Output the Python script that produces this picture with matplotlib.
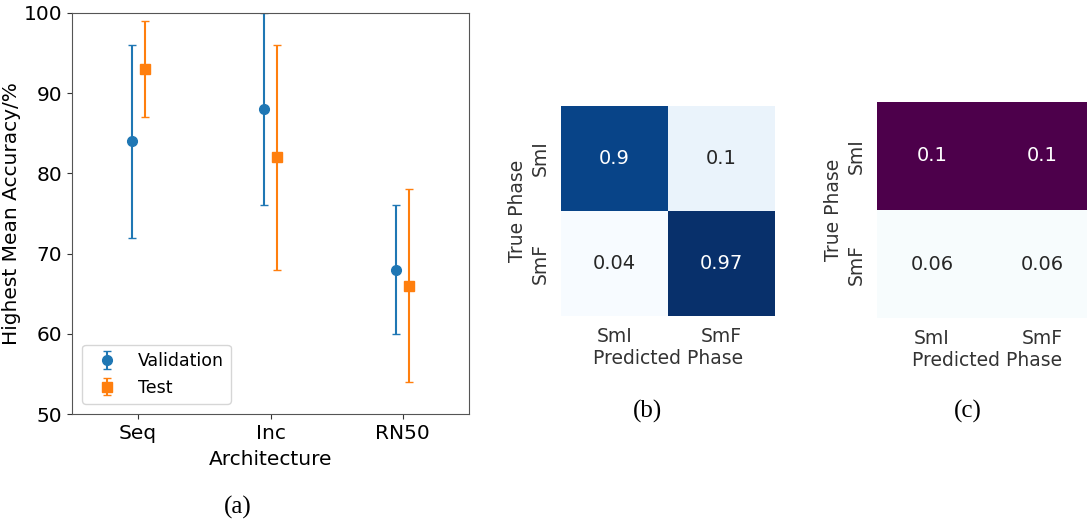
import matplotlib
matplotlib.use('Agg')
import matplotlib.pyplot as plt
import seaborn as sns
import numpy as np

# ── data ──
archs = ['Seq', 'Inc', 'RN50']
val_mean = [84, 88, 68]
val_lo = [72, 76, 60]
val_hi = [96, 100, 76]
test_mean = [93, 82, 66]
test_lo = [87, 68, 54]
test_hi = [99, 96, 78]

phases = ['SmI', 'SmF']
cm_b = [[0.9, 0.1],
        [0.04, 0.97]]
cm_c = [[0.1, 0.1],
        [0.06, 0.06]]

W, H = 1087, 521
fig = plt.figure(figsize=(W / 100, H / 100), dpi=100)


def rect(x0, y0, x1, y1):
    # pixel box -> figure fraction
    return [x0 / W, 1 - y1 / H, (x1 - x0) / W, (y1 - y0) / H]


# ── (a) error bars ──
ax = fig.add_axes(rect(72, 13, 469, 414))
x = np.arange(len(archs))
off = 0.05
vm = np.array(val_mean)
tm = np.array(test_mean)
ax.errorbar(x - off, vm, yerr=[vm - np.array(val_lo), np.array(val_hi) - vm],
            fmt='o', color='#1f77b4', capsize=3, lw=1.5, ms=7, label='Validation')
ax.errorbar(x + off, tm, yerr=[tm - np.array(test_lo), np.array(test_hi) - tm],
            fmt='s', color='#ff7f0e', capsize=3, lw=1.5, ms=6.5, label='Test')
ax.set_xlim(-0.5, 2.5)
ax.set_ylim(50, 100)
ax.set_xticks(x)
ax.set_xticklabels(archs)
ax.set_yticks(range(50, 101, 10))
ax.tick_params(labelsize=14.5, color='#333333')
ax.set_xlabel('Architecture', fontsize=14.5, labelpad=5)
ax.set_ylabel('Highest Mean Accuracy/%', fontsize=14.5, labelpad=2)
for s in ax.spines.values():
    s.set_color('#555555')
ax.legend(loc='lower left', fontsize=12.5, borderaxespad=0.6)
fig.text(238 / W, 1 - 507 / H, '(a)', ha='center', va='center',
         fontsize=18, family='Liberation Serif')

# ── (b) confusion matrix ──
axb = fig.add_axes(rect(561, 106, 775, 316))
sns.heatmap(np.array(cm_b), annot=True, fmt='g', cmap='Blues', cbar=False,
            xticklabels=phases, yticklabels=phases, ax=axb,
            annot_kws={'fontsize': 14})
axb.set_xlabel('Predicted Phase', fontsize=13.5, color='#333333', labelpad=2)
axb.set_ylabel('True Phase', fontsize=13.5, color='#333333', labelpad=3)
axb.tick_params(length=0, labelsize=13.5, labelcolor='#333333', pad=8)
fig.text(648 / W, 1 - 411 / H, '(b)', ha='center', va='center',
         fontsize=18, family='Liberation Serif')

# ── (c) confusion matrix ──
axc = fig.add_axes(rect(877, 102, 1097, 318))
sns.heatmap(np.array(cm_c), annot=True, fmt='g', cmap='BuPu', cbar=False,
            xticklabels=phases, yticklabels=phases, ax=axc,
            annot_kws={'fontsize': 14})
axc.set_xlabel('Predicted Phase', fontsize=13.5, color='#333333', labelpad=2)
axc.set_ylabel('True Phase', fontsize=13.5, color='#333333', labelpad=3)
axc.tick_params(length=0, labelsize=13.5, labelcolor='#333333', pad=8)
fig.text(968 / W, 1 - 411 / H, '(c)', ha='center', va='center',
         fontsize=18, family='Liberation Serif')

fig.savefig('out.png', dpi=100)
